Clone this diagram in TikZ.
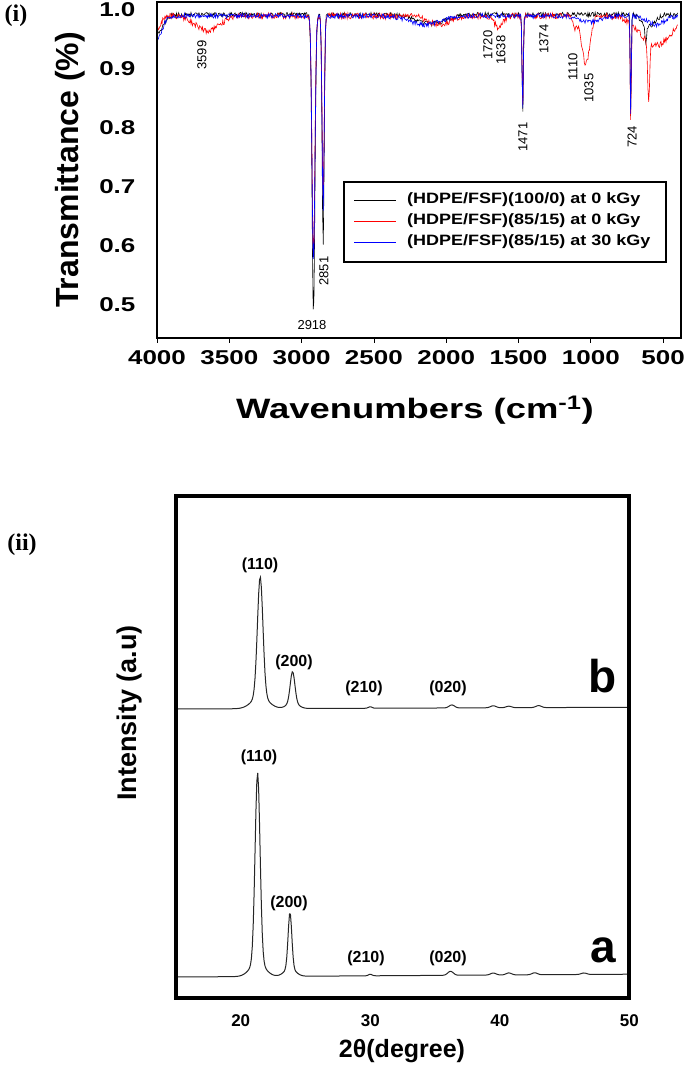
\documentclass[tikz,border=0pt]{standalone}
\usepackage{fontspec}
\setmainfont{Liberation Sans}
\newfontfamily\serifb{Liberation Serif}
\begin{document}
\begin{tikzpicture}[x=1pt,y=-1pt,
  declare function={G(\a,\c,\w)=exp(-(min(abs((\a-\c)/\w),9))^2);
    wx(\a)=157+(4000-\a)*0.1446; ty(\a)=10+(1-\a)*590;
    dx(\a)=176+(\a-15)*12.95;},
  tick/.style={font=\bfseries\fontsize{20}{20}\selectfont,xscale=1.3},
  stick/.style={font=\bfseries\fontsize{17}{17}\selectfont},
  ann/.style={font=\fontsize{13}{13}\selectfont,inner sep=1pt},
  hkl/.style={font=\bfseries\fontsize{16}{16}\selectfont},
  leg/.style={font=\bfseries\fontsize{15}{15}\selectfont,anchor=west,xscale=1.2}]
\useasboundingbox (0,0) rectangle (685,1066);
\fill[white] (0,0) rectangle (685,1066);
% ---------- panel (i)
\node[font=\serifb\bfseries\fontsize{24}{24}\selectfont] (pi) at (16,16) {(i)};
\pgfmathsetseed{3}
\begin{scope}
\clip (157,2) rectangle (681,338);
\draw[black,line width=0.6pt] plot[domain=4000:400,samples=721] ({wx(\x)},{ty(0.992+0.004*rand
 -0.51*G(\x,2918,14)-0.39*G(\x,2851,10)-0.17*G(\x,1471,6)-0.18*G(\x,724,5)
 -0.03*G(\x,4000,60)-0.015*G(\x,2100,150)-0.02*G(\x,600,60)-0.03*G(\x,620,8))});
\draw[red,line width=0.6pt] plot[domain=4000:400,samples=721] ({wx(\x)},{ty(0.99+0.005*rand
 -0.41*G(\x,2918,14)-0.31*G(\x,2851,10)-0.15*G(\x,1471,6)-0.17*G(\x,724,5)
 -0.025*G(\x,3650,120)-0.02*G(\x,1638,40)-0.08*G(\x,1035,40)-0.02*G(\x,1110,20)
 -0.015*G(\x,2050,100)-0.05*G(\x,550,150)-0.1*G(\x,600,10)-0.02*G(\x,4000,40))});
\draw[blue,line width=0.6pt] plot[domain=4000:400,samples=721] ({wx(\x)},{ty(0.99+0.004*rand
 -0.42*G(\x,2918,14)-0.33*G(\x,2851,10)-0.16*G(\x,1471,6)-0.17*G(\x,724,5)
 -0.04*G(\x,4000,50)-0.015*G(\x,2150,150)-0.01*G(\x,1000,100)-0.015*G(\x,550,80))});
\end{scope}
\draw[line width=2.5pt] (157,2) rectangle (681,338);
\foreach \w in {4000,3500,...,500}{
  \draw[line width=0.8pt] ({wx(\w)},338) -- ({wx(\w)},343);
  \node[tick] (xt\w) at ({wx(\w)},358) {\w};}
\foreach \t in {1.0,0.9,0.8,0.7,0.6,0.5}
  \node[tick,anchor=east] (yt\t) at (140,{ty(\t)}) {\t};
\node[font=\bfseries\fontsize{32}{32}\selectfont,rotate=90] (ylab1) at (70,170) {Transmittance (\%)};
\node[font=\bfseries\fontsize{28}{28}\selectfont,xscale=1.3] (xlab1) at (415,410) {Wavenumbers (cm\textsuperscript{-1})};
\node[ann,rotate=90] (a3599) at (202,55) {3599};
\node[ann] (a2918) at (312,325) {2918};
\node[ann,rotate=90] (a2851) at (324,271) {2851};
\node[ann,rotate=90] (a1720) at (488,45) {1720};
\node[ann,rotate=90] (a1638) at (501,50) {1638};
\node[ann,rotate=90] (a1374) at (544,39) {1374};
\node[ann,rotate=90] (a1110) at (573,67) {1110};
\node[ann,rotate=90] (a1035) at (589,88) {1035};
\node[ann,rotate=90] (a1471) at (523,137) {1471};
\node[ann,rotate=90] (a724) at (632,137) {724};
\draw[line width=2pt,fill=white] (344,182) rectangle (666,262);
\draw[black] (354,200) -- (396,200); \node[leg] (l1) at (403,200) {(HDPE/FSF)(100/0) at 0 kGy};
\draw[red] (354,221) -- (396,221); \node[leg] (l2) at (403,221) {(HDPE/FSF)(85/15) at 0 kGy};
\draw[blue] (354,242) -- (396,242); \node[leg] (l3) at (403,242) {(HDPE/FSF)(85/15) at 30 kGy};
% ---------- panel (ii)
\node[font=\serifb\bfseries\fontsize{24}{24}\selectfont] (pii) at (22,545) {(ii)};
\draw[line width=1pt,black!85] plot[domain=15:50,samples=500] ({dx(\x)},{709-0.05*(\x-15)
 -120*G(\x,21.5,0.3)-12*G(\x,21.5,0.9)-31*G(\x,24,0.25)-6*G(\x,24,0.6)
 -1.5*G(\x,30,0.2)-3*G(\x,36.3,0.3)-2*G(\x,39.5,0.3)-1.5*G(\x,40.7,0.3)-2*G(\x,43,0.3)});
\draw[line width=1pt,black!85] plot[domain=15:50,samples=500] ({dx(\x)},{977-0.08*(\x-15)
 -190*G(\x,21.3,0.27)-14*G(\x,21.3,0.8)-56*G(\x,23.8,0.2)-8*G(\x,23.8,0.6)
 -1.5*G(\x,30,0.2)-4*G(\x,36.2,0.3)-2*G(\x,39.5,0.3)-2*G(\x,40.7,0.3)-2*G(\x,42.7,0.3)-1.5*G(\x,46.5,0.3)});
\draw[line width=3.5pt] (176,496) rectangle (629,998);
\foreach \d in {20,30,40,50}
  \node[stick] (dt\d) at ({dx(\d)},1021) {\d};
\node[font=\bfseries\fontsize{25}{25}\selectfont] (xlab2) at (402,1051) {2θ(degree)};
\node[font=\bfseries\fontsize{27}{27}\selectfont,rotate=90] (ylab2) at (130,713) {Intensity (a.u)};
\node[hkl] (b110) at (260,565) {(110)};
\node[hkl] (b200) at (294,662) {(200)};
\node[hkl] (b210) at (364,688) {(210)};
\node[hkl] (b020) at (448,688) {(020)};
\node[font=\bfseries\fontsize{46}{46}\selectfont] (lb) at (603,676) {b};
\node[hkl] (a110) at (259,757) {(110)};
\node[hkl] (a200) at (289,903) {(200)};
\node[hkl] (a210) at (366,958) {(210)};
\node[hkl] (a020) at (448,958) {(020)};
\node[font=\bfseries\fontsize{46}{46}\selectfont] (la) at (603,950) {a};
\end{tikzpicture}
\end{document}
